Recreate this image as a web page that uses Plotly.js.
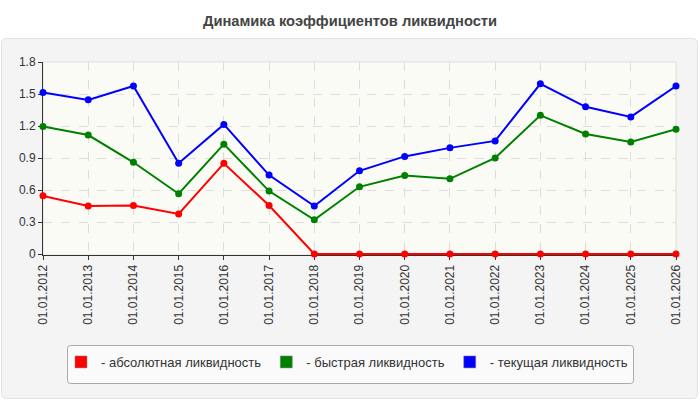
<!DOCTYPE html>
<html>
<head>
<meta charset="utf-8">
<script src="https://cdn.plot.ly/plotly-3.0.1.min.js"></script>
<style>html,body{margin:0;padding:0;background:#fff;}#chart{width:700px;height:400px;}</style>
</head>
<body>
<div id="chart"></div>
<script>
const dates = ["01.01.2012","01.01.2013","01.01.2014","01.01.2015","01.01.2016","01.01.2017","01.01.2018","01.01.2019","01.01.2020","01.01.2021","01.01.2022","01.01.2023","01.01.2024","01.01.2025","01.01.2026"];
const absoluteLiq = [0.545,0.45,0.455,0.375,0.85,0.455,0,0,0,0,0,0,0,0,0];
const quickLiq = [1.195,1.115,0.86,0.565,1.03,0.59,0.32,0.63,0.735,0.705,0.9,1.3,1.125,1.05,1.17];
const currentLiq = [1.515,1.445,1.575,0.85,1.215,0.74,0.45,0.78,0.915,0.995,1.06,1.595,1.38,1.285,1.575];
const seriesNames = ["- абсолютная ликвидность","- быстрая ликвидность","- текущая ликвидность"];
const colors = ["#ff0000","#008000","#0000ff"];
const yTicks = [0,0.3,0.6,0.9,1.2,1.5,1.8];
const yTickText = ["0","0.3","0.6","0.9","1.2","1.5","1.8"];

const seriesData = [absoluteLiq, quickLiq, currentLiq];
const traces = [];
// legend-only swatches (bars)
seriesData.forEach((s,i)=>{
  traces.push({type:'bar', x:[null], y:[null], name:seriesNames[i], marker:{color:colors[i], line:{color:'#888',width:0.5}}, showlegend:true, hoverinfo:'skip'});
});
// lines drawn green, blue, red (red on top)
[1,2,0].forEach(i=>{
  traces.push({type:'scatter', mode:'lines+markers', x:dates, y:seriesData[i], name:seriesNames[i], showlegend:false,
    line:{color:colors[i], width:2}, marker:{color:colors[i], size:7}, cliponaxis:false});
});

const L=43, R=676, T=62, B=255;
const px = v => (v-L)/(R-L);
const py = v => (B-v)/(B-T);
function roundRect(a,b,c,d,r){
  const x0=px(a), x1=px(c), y0=py(b), y1=py(d);
  const rx=r/(R-L), ry=r/(B-T);
  return `M ${x0+rx} ${y0} L ${x1-rx} ${y0} Q ${x1} ${y0} ${x1} ${y0-ry} L ${x1} ${y1+ry} Q ${x1} ${y1} ${x1-rx} ${y1} L ${x0+rx} ${y1} Q ${x0} ${y1} ${x0} ${y1+ry} L ${x0} ${y0-ry} Q ${x0} ${y0} ${x0+rx} ${y0} Z`;
}

const layout = {
  width:700, height:400,
  margin:{l:L, r:700-R, t:T, b:400-B},
  paper_bgcolor:'#ffffff',
  plot_bgcolor:'rgba(0,0,0,0)',
  font:{family:'"Liberation Sans", Arial, sans-serif', size:12, color:'#333'},
  title:{text:'<b>Динамика коэффициентов ликвидности</b>', x:0.5, xanchor:'center', y:1-21/400, yanchor:'middle', font:{size:14.7, color:'#444'}},
  showlegend:true,
  legend:{orientation:'h', x:px(61), xanchor:'left', y:py(362), yanchor:'middle', bgcolor:'rgba(0,0,0,0)', borderwidth:0,
    font:{size:13, color:'#333'}, traceorder:'normal', itemwidth:30, itemclick:false},
  xaxis:{type:'category', range:[0,14], tickangle:-90, showline:true, linecolor:'#333', linewidth:1, ticks:'outside', ticklen:4, tickcolor:'#333',
    showgrid:true, gridcolor:'#dddddd', griddash:'dash', zeroline:false, tickfont:{size:12, color:'#333'}, fixedrange:true, layer:'below traces'},
  yaxis:{range:[-1.8/192,1.8], tickvals:yTicks, ticktext:yTickText, showline:true, linecolor:'#333', linewidth:1, ticks:'outside', ticklen:4, tickcolor:'#333',
    showgrid:true, gridcolor:'#dddddd', griddash:'dash', zeroline:false, tickfont:{size:12, color:'#333'}, fixedrange:true, layer:'below traces'},
  shapes:[
    {type:'path', xref:'paper', yref:'paper', path:roundRect(1.5,38.5,697.5,398.5,5), fillcolor:'#f4f4f4', line:{color:'#e2e2e2', width:1}, layer:'below'},
    {type:'rect', xref:'paper', yref:'paper', x0:0, x1:1, y0:0, y1:1, line:{color:'#dddddd', width:1}, fillcolor:'#fbfbf6', layer:'below'},
    {type:'path', xref:'paper', yref:'paper', path:roundRect(67.5,345.5,633.5,383.5,3), fillcolor:'#fafafa', line:{color:'#aaaaaa', width:1}, layer:'below'}
  ],
  barmode:'group'
};
Plotly.newPlot('chart', traces, layout, {displayModeBar:false, staticPlot:true});
</script>
</body>
</html>
